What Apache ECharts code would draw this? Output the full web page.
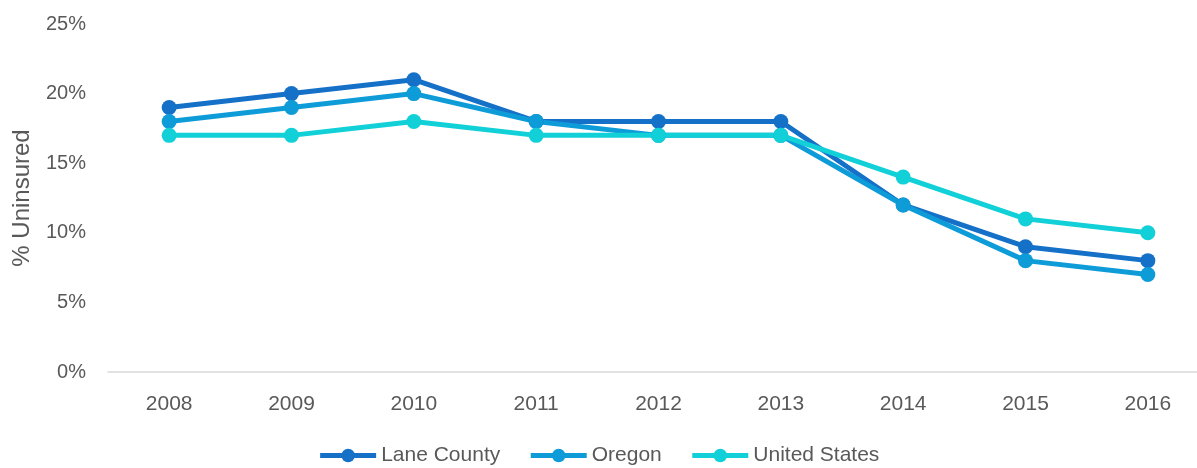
<!DOCTYPE html>
<html><head><meta charset="utf-8">
<script src="https://cdn.jsdelivr.net/npm/echarts@6/dist/echarts.min.js"></script>
<style>html,body{margin:0;padding:0;background:#fff}#c{width:1197px;height:468px}</style>
</head><body><div id="c"></div>
<script>
const years = ['2008','2009','2010','2011','2012','2013','2014','2015','2016'];
const laneCounty = [19,20,21,18,18,18,12,9,8];
const oregon = [18,19,20,18,17,17,12,8,7];
const unitedStates = [17,17,18,17,17,17,14,11,10];

const font = 'Liberation Sans, Open Sans, sans-serif';
const chart = echarts.init(document.getElementById('c'));
function s(name, data, color){
  return {name, type:'line', data, color, symbol:'circle', symbolSize:15,
    lineStyle:{width:5, color}, itemStyle:{color}};
}
chart.setOption({
  animation:false,
  grid:{left:108, width:1101, top:24, bottom:96, containLabel:false, outerBoundsMode:'none'},
  legend:{top:445, left:'center', padding:0, itemWidth:56, itemHeight:17, itemGap:28,
    lineStyle:{width:5},
    textStyle:{color:'#595959', fontSize:21, fontFamily:font},
    data:['Lane County','Oregon','United States']},
  xAxis:{type:'category', data:years, boundaryGap:true,
    axisLine:{lineStyle:{color:'#d9d9d9', width:1.5}}, axisTick:{show:false},
    axisLabel:{color:'#595959', fontSize:21, fontFamily:font, margin:22}},
  yAxis:{type:'value', min:0, max:25, interval:5,
    name:'% Uninsured', nameLocation:'middle', nameGap:74, nameRotate:90,
    nameTextStyle:{color:'#595959', fontSize:24, fontFamily:font},
    axisLine:{show:false}, axisTick:{show:false}, splitLine:{show:false},
    axisLabel:{color:'#595959', fontSize:20, fontFamily:font, margin:22, formatter:v=>v+'%'}},
  series:[s('Lane County', laneCounty, '#1570C8'), s('Oregon', oregon, '#0E9CD8'), s('United States', unitedStates, '#12D0D8')]
});
</script></body></html>
